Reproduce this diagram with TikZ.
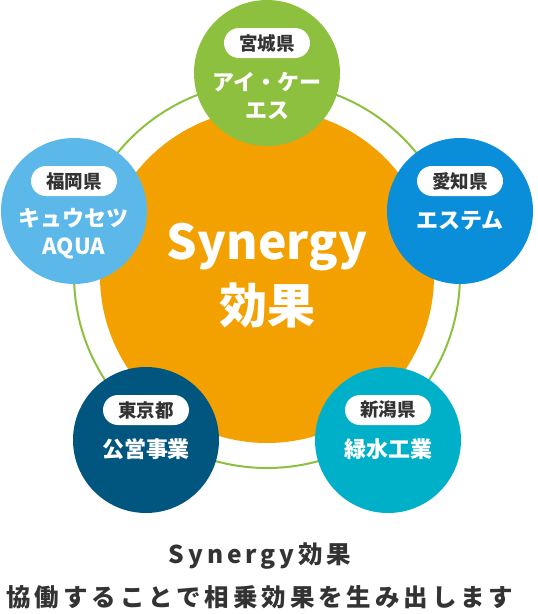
\documentclass[tikz,border=0pt]{standalone}
\usepackage{fontspec}
\setmainfont{Noto Sans CJK JP}
\usetikzlibrary{positioning}

\definecolor{hubOrange}{HTML}{F2A100}
\definecolor{miyagiGreen}{HTML}{8DC03F}
\definecolor{aichiBlue}{HTML}{0A8EDA}
\definecolor{fukuokaBlue}{HTML}{5BB8E8}
\definecolor{tokyoBlue}{HTML}{00567F}
\definecolor{niigataTeal}{HTML}{00B0C9}
\definecolor{inkGray}{HTML}{333333}

\begin{document}
\begin{tikzpicture}[x=1pt, y=-1pt,
  firmcircle/.style={circle, minimum size=146pt, inner sep=0pt},
  pill/.style={fill=white, rounded corners=15pt, minimum width=86pt, minimum height=30pt, inner sep=0pt, text=inkGray, font=\fontsize{18.5}{20}\selectfont\bfseries},
  firm/.style={align=center, text=white, font=\fontsize{22}{28}\selectfont\bfseries},
  caption/.style={text=inkGray, font=\fontsize{24.5}{30}\selectfont\bfseries\addfontfeature{LetterSpace=16}}]
\useasboundingbox (0,0) rectangle (538,614);

\node (ring) [draw=miyagiGreen, line width=2pt, circle, minimum size=386pt, inner sep=0pt] at (267,275) {};
\node (hub) [circle, fill=hubOrange, minimum size=334pt, inner sep=0pt, align=center, text=white, font=\fontsize{48}{64}\selectfont\bfseries] at (267,276) {Synergy\\効果};

\node (miyagi) [firmcircle, fill=miyagiGreen] at (267,73) {};
\node (aichi) [firmcircle, fill=aichiBlue] at (460,211) {};
\node (fukuoka) [firmcircle, fill=fukuokaBlue] at (74,211) {};
\node (tokyo) [firmcircle, fill=tokyoBlue] at (146,440) {};
\node (niigata) [firmcircle, fill=niigataTeal] at (388,440) {};

\node (miyagiPref) [pill] at ([yshift=30pt]miyagi.center) {宮城県};
\node (aichiPref) [pill] at ([yshift=30pt]aichi.center) {愛知県};
\node (fukuokaPref) [pill] at ([yshift=30pt]fukuoka.center) {福岡県};
\node (tokyoPref) [pill] at ([yshift=30pt]tokyo.center) {東京都};
\node (niigataPref) [pill] at ([yshift=30pt]niigata.center) {新潟県};

\node (miyagiName) [firm] at ([yshift=-23pt]miyagi.center) {アイ・ケー\\エス};
\node (aichiName) [firm] at ([yshift=-9.5pt]aichi.center) {エステム};
\node (fukuokaName) [firm] at ([yshift=-23pt]fukuoka.center) {キュウセツ\\AQUA};
\node (tokyoName) [firm] at ([yshift=-9.5pt]tokyo.center) {公営事業};
\node (niigataName) [firm] at ([yshift=-9.5pt]niigata.center) {緑水工業};

\node (title) [caption] at (260,556) {Synergy効果};
\node (tagline) [caption] at (260,597) {協働することで相乗効果を生み出します};
\end{tikzpicture}
\end{document}
